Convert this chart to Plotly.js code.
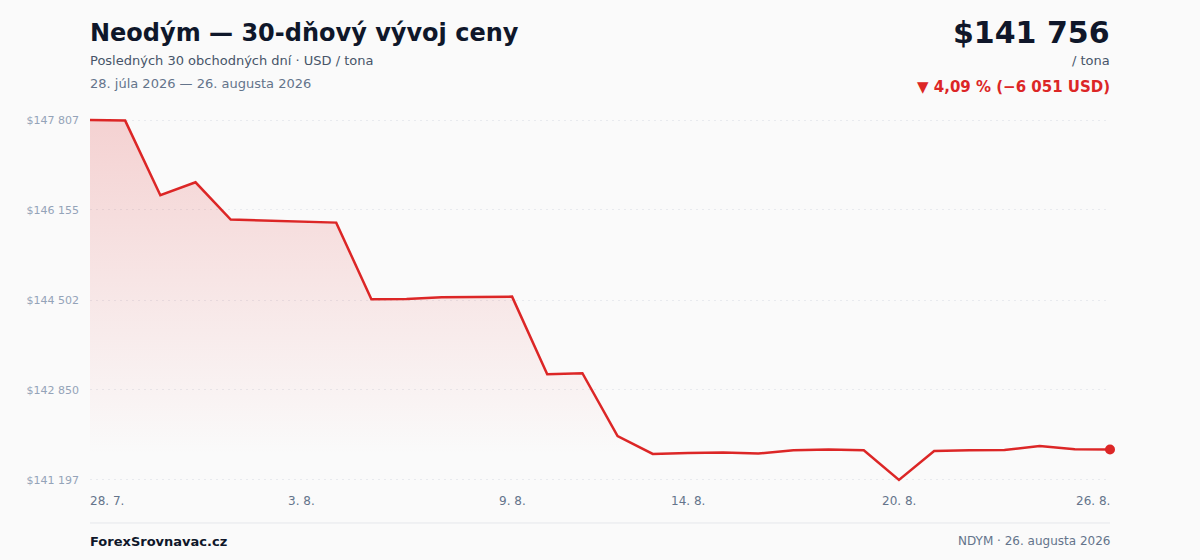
<!DOCTYPE html>
<html>
<head>
<meta charset="utf-8">
<script src="https://cdn.plot.ly/plotly-3.0.1.min.js"></script>
<style>
  html, body { margin: 0; padding: 0; background: #fafafa; }
  #chart { width: 1200px; height: 560px; }
</style>
</head>
<body>
<div id="chart"></div>
<script>
// ---- data ----
const dates = [
  '2026-07-28','2026-07-29','2026-07-30','2026-07-31','2026-08-01','2026-08-02',
  '2026-08-03','2026-08-04','2026-08-05','2026-08-06','2026-08-07','2026-08-08',
  '2026-08-09','2026-08-10','2026-08-11','2026-08-12','2026-08-13','2026-08-14',
  '2026-08-15','2026-08-16','2026-08-17','2026-08-18','2026-08-19','2026-08-20',
  '2026-08-21','2026-08-22','2026-08-23','2026-08-24','2026-08-25','2026-08-26'
];
const prices = [
  147807, 147796, 146425, 146663, 145978, 145960,
  145947, 145923, 144515, 144520, 144552, 144557,
  144564, 143138, 143157, 142005, 141675, 141693,
  141701, 141682, 141743, 141756, 141743, 141197,
  141729, 141742, 141748, 141821, 141761, 141756
];
const yTickVals = [141197, 142850, 144502, 146155, 147807];
const yTickText = ['$141 197', '$142 850', '$144 502', '$146 155', '$147 807'];
const xTickDates = ['2026-07-28', '2026-08-03', '2026-08-09', '2026-08-14', '2026-08-20', '2026-08-26'];
const xTickText = ['28. 7.', '3. 8.', '9. 8.', '14. 8.', '20. 8.', '26. 8.'];

const titleText = 'Neodým — 30-dňový vývoj ceny';
const subtitleText = 'Posledných 30 obchodných dní · USD / tona';
const rangeText = '28. júla 2026 — 26. augusta 2026';
const priceText = '$141 756';
const unitText = '/ tona';
const changeText = '▼ 4,09 % (−6 051 USD)';
const brandText = 'ForexSrovnavac.cz';
const footRightText = 'NDYM · 26. augusta 2026';

// ---- layout geometry ----
const W = 1200, H = 560;
const plotL = 90, plotR = 1110, plotT = 115, plotB = 485;
const px = x => (x - plotL) / (plotR - plotL);
const py = y => (plotB - y) / (plotB - plotT);
const FONT = 'DejaVu Sans, sans-serif';
const RED = '#dc2626';

const lastIdx = prices.length - 1;

const traces = [
  {
    x: dates, y: prices, type: 'scatter', mode: 'lines',
    line: { color: RED, width: 2.5 },
    fill: 'tozeroy',
    fillgradient: {
      type: 'vertical',
      start: 141650, stop: 147807,
      colorscale: [[0, 'rgba(220,38,38,0.0)'], [1, 'rgba(220,38,38,0.19)']]
    },
    hoverinfo: 'skip'
  },
  {
    x: [dates[lastIdx]], y: [prices[lastIdx]], type: 'scatter', mode: 'markers',
    marker: { color: RED, size: 10 },
    cliponaxis: false, hoverinfo: 'skip'
  }
];

const ann = (x, y, text, opts) => {
  const o = Object.assign({
    xref: 'paper', yref: 'paper', x: px(x), y: py(y), text: text,
    showarrow: false, yanchor: 'middle', xanchor: 'left',
    font: { family: FONT, size: 13, color: '#475569' }
  }, opts || {});
  o.xshift = o.xanchor === 'right' ? 2 : (o.xanchor === 'left' ? -2 : 0);
  return o;
};

const annotations = [
  ann(90, 61, subtitleText, { font: { family: FONT, size: 13, color: '#475569' } }),
  ann(90, 83, rangeText, { font: { family: FONT, size: 13, color: '#64748b' } }),
  ann(1110, 32, '<b>' + priceText + '</b>', { xanchor: 'right', font: { family: FONT, size: 30, color: '#0f172a' } }),
  ann(1110, 61, unitText, { xanchor: 'right', font: { family: FONT, size: 13, color: '#475569' } }),
  ann(1110, 87, '<b>' + changeText + '</b>', { xanchor: 'right', font: { family: FONT, size: 15, color: RED } }),
  ann(90, 541, '<b>' + brandText + '</b>', { font: { family: FONT, size: 13, color: '#0f172a' } }),
  ann(1110, 541, footRightText, { xanchor: 'right', font: { family: FONT, size: 12, color: '#64748b' } })
];

xTickDates.forEach((d, i) => {
  const anchor = i === 0 ? 'left' : (i === xTickDates.length - 1 ? 'right' : 'center');
  annotations.push({
    xref: 'x', yref: 'paper', x: d, y: py(501), text: xTickText[i],
    showarrow: false, yanchor: 'middle', xanchor: anchor,
    xshift: anchor === 'left' ? -2 : (anchor === 'right' ? 2 : 0),
    font: { family: FONT, size: 12, color: '#64748b' }
  });
});

const layout = {
  width: W, height: H,
  paper_bgcolor: '#fafafa', plot_bgcolor: '#fafafa',
  margin: { l: plotL, r: W - plotR, t: plotT, b: H - plotB, pad: 0 },
  showlegend: false,
  hovermode: false,
  title: {
    text: '<b>' + titleText + '</b>',
    x: 90 / W, xanchor: 'left',
    y: 1 - 33 / H, yanchor: 'middle',
    font: { family: FONT, size: 24, color: '#0f172a' }
  },
  xaxis: {
    type: 'date',
    range: [dates[0], dates[lastIdx]],
    showgrid: false, zeroline: false, showline: false,
    showticklabels: false, ticks: '', fixedrange: true
  },
  yaxis: {
    range: [141105, 147899],
    tickvals: yTickVals, ticktext: yTickText,
    tickfont: { family: FONT, size: 11, color: '#94a3b8' },
    ticks: '', ticklabelstandoff: 10,
    showgrid: true, gridcolor: '#e8eaee', griddash: '2px,4px', gridwidth: 1,
    zeroline: false, showline: false, fixedrange: true
  },
  shapes: [
    { type: 'line', xref: 'paper', yref: 'paper', x0: 0, x1: 1, y0: py(523), y1: py(523),
      line: { color: '#e5e7eb', width: 1 } }
  ],
  annotations: annotations
};

Plotly.newPlot('chart', traces, layout, { displayModeBar: false, staticPlot: true });
</script>
</body>
</html>
